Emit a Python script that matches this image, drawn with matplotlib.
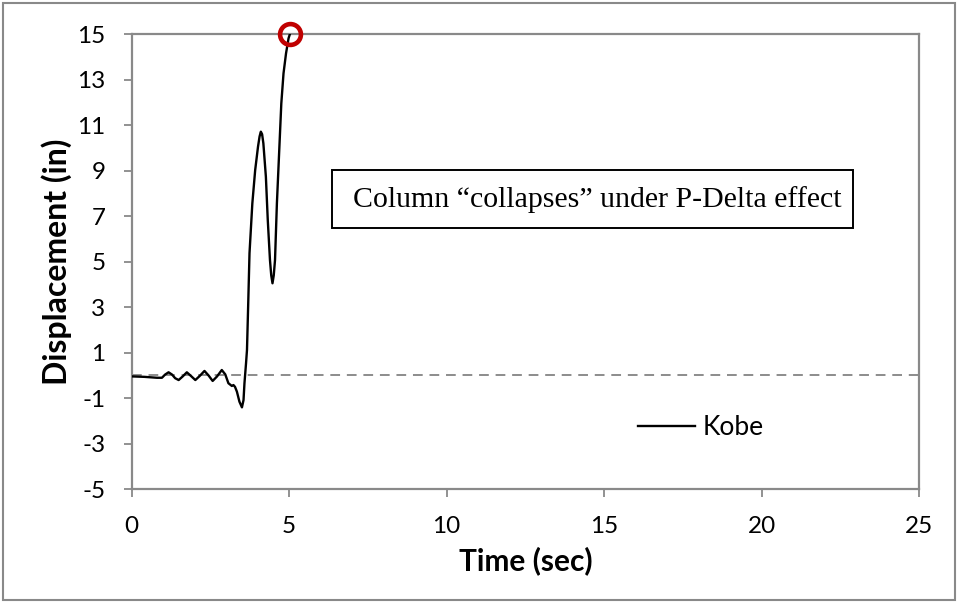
import matplotlib
matplotlib.use("Agg")
import matplotlib.pyplot as plt
from matplotlib.patches import Rectangle

# Kobe record, column displacement until collapse
time_s = [0.00, 0.40, 0.80, 0.96, 1.06, 1.17, 1.28, 1.38, 1.49, 1.62,
          1.75, 1.88, 2.02, 2.16, 2.31, 2.44, 2.57, 2.71, 2.86, 2.97,
          3.07, 3.18, 3.23, 3.28, 3.34, 3.42, 3.50, 3.55, 3.58, 3.63,
          3.66, 3.70, 3.74, 3.83, 3.92, 4.01, 4.06, 4.10, 4.14, 4.18,
          4.26, 4.32, 4.39, 4.43, 4.47, 4.51, 4.55, 4.61, 4.68, 4.75,
          4.82, 4.90, 4.98, 5.03]
disp_in = [-0.04, -0.06, -0.10, -0.10, 0.04, 0.14, 0.04, -0.12, -0.20, -0.04,
           0.14, -0.02, -0.20, -0.02, 0.20, 0.00, -0.24, -0.04, 0.24, 0.05,
           -0.34, -0.46, -0.42, -0.50, -0.71, -1.15, -1.40, -1.08, -0.34, 0.54,
           1.12, 3.20, 5.37, 7.56, 9.02, 10.05, 10.50, 10.71, 10.60, 10.20,
           8.73, 6.83, 5.07, 4.40, 4.05, 4.40, 5.07, 7.56, 9.76, 11.95,
           13.27, 14.15, 14.81, 15.03]

collapse_t = [5.02]
collapse_disp = [15.0]

x_ticks = [0, 5, 10, 15, 20, 25]
y_ticks = [-5, -3, -1, 1, 3, 5, 7, 9, 11, 13, 15]

plt.rcParams['font.family'] = ['Lato', 'DejaVu Sans']
plt.rcParams['axes.unicode_minus'] = False
grey = '#898989'

fig = plt.figure(figsize=(9.58, 6.02), dpi=100)
ax = fig.add_axes([0.1375, 0.1872, 0.8218, 0.7563])

ax.axhline(0, color='#8c8c8c', lw=1.4, ls=(0, (5, 3.5)), zorder=1)
ax.plot(time_s, disp_in, color='black', lw=1.7, label='Kobe', zorder=3)
ax.plot(collapse_t, collapse_disp, 'o', ms=15, mfc='none', mec='#c00000',
        mew=3.3, clip_on=False, zorder=4)

ax.set_xlim(0, 25)
ax.set_ylim(-5, 15)
ax.set_xticks(x_ticks)
ax.set_yticks(y_ticks)
ax.tick_params(direction='out', length=6, width=1.3, color=grey,
               labelsize=17.5)
ax.tick_params(axis='y', pad=13)
ax.tick_params(axis='x', pad=13)
for s in ax.spines.values():
    s.set_color(grey)
    s.set_linewidth(1.6)

ax.set_xlabel('Time (sec)', fontsize=21.5, fontweight='bold', labelpad=7)
ax.set_ylabel('Displacement (in)', fontsize=23, fontweight='bold', labelpad=4)

ax.legend(loc='center left', bbox_to_anchor=(0.643, 0.135), frameon=False,
          fontsize=19, handlelength=2.15, handletextpad=0.3,
          borderpad=0, borderaxespad=0)

# annotation box
fig.patches.append(Rectangle((0.3466, 0.6213), 0.5438, 0.0963,
                             transform=fig.transFigure, fill=True,
                             facecolor='white', edgecolor='black', lw=1.4))
fig.text(0.6232, 0.6694, 'Column \u201ccollapses\u201d under P-Delta effect',
         family='Liberation Serif', fontsize=21.5, ha='center', va='center')

# outer chart border
fig.patches.append(Rectangle((0.003, 0.004), 0.994, 0.991,
                             transform=fig.transFigure, fill=False,
                             edgecolor=grey, lw=1.5))

fig.savefig('out.png', dpi=100)
